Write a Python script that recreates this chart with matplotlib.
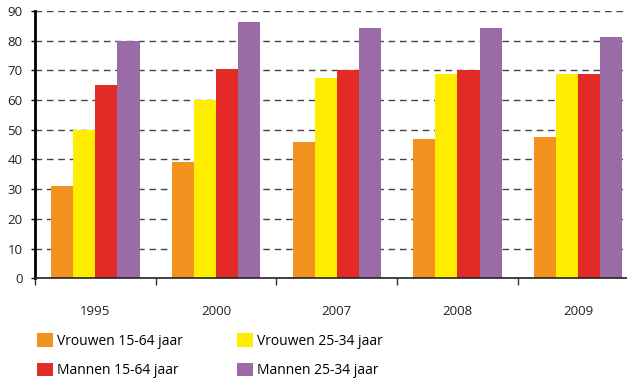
import matplotlib.pyplot as plt
import numpy as np
from matplotlib.patches import Patch

years = ['1995', '2000', '2007', '2008', '2009']
series = ['Vrouwen 15-64 jaar', 'Vrouwen 25-34 jaar', 'Mannen 15-64 jaar', 'Mannen 25-34 jaar']
vrouwen_15_64 = [31, 39, 46, 47, 47.7]
vrouwen_25_34 = [50, 60, 67.5, 68.8, 68.8]
mannen_15_64 = [65, 70.5, 70, 70, 68.8]
mannen_25_34 = [80, 86.2, 84.3, 84.3, 81.2]
colors = ['#F29320', '#FFED00', '#E22A27', '#9B6BA8']

plt.rcParams['font.family'] = ['Open Sans', 'DejaVu Sans']

fig = plt.figure(figsize=(6.27, 3.8), dpi=100)
ax = fig.add_axes([0.0558, 0.2676, 0.9625, 0.7035])

x = np.arange(len(years))
w = 0.183
data = [vrouwen_15_64, vrouwen_25_34, mannen_15_64, mannen_25_34]
for i, vals in enumerate(data):
    ax.bar(x + (i - 1.5) * w, vals, w, color=colors[i], edgecolor='none', zorder=3)

ax.set_xlim(-0.5, len(years) - 0.5)
ax.set_ylim(0, 90)
ax.set_yticks(range(0, 91, 10))
ax.yaxis.grid(True, linestyle=(0, (4.8, 3.4)), color='#444444', linewidth=1.0, zorder=0)
ax.set_axisbelow(True)

ax.set_xticks(np.arange(-0.5, len(years)), [''] * (len(years) + 1))
ax.set_xticks(x, years, minor=True)
ax.tick_params(axis='x', which='major', length=5, width=1, color='#333333', direction='out')
ax.tick_params(axis='x', which='minor', length=0, pad=19, labelsize=9.5, labelcolor='#222222')
ax.tick_params(axis='y', length=3, width=1, labelsize=9.5, labelcolor='#222222', pad=6)

for s in ['top', 'right']:
    ax.spines[s].set_visible(False)
ax.spines['left'].set_linewidth(2)
ax.spines['bottom'].set_linewidth(1.2)
ax.spines['bottom'].set_color('#222222')
ax.spines['bottom'].set_zorder(4)

# legend fills column-wise, so order handles for row layout
order = [0, 2, 1, 3]
handles = [Patch(facecolor=colors[i], edgecolor='none') for i in order]
labels = [series[i] for i in order]
fig.legend(handles, labels, ncol=2, loc='upper left', bbox_to_anchor=(0.05, 0.138),
           frameon=False, fontsize=10, handlelength=1.15, handleheight=1.15,
           handletextpad=0.3, columnspacing=3.9, labelspacing=1.0, borderaxespad=0)

fig.savefig('out.png', dpi=100)
